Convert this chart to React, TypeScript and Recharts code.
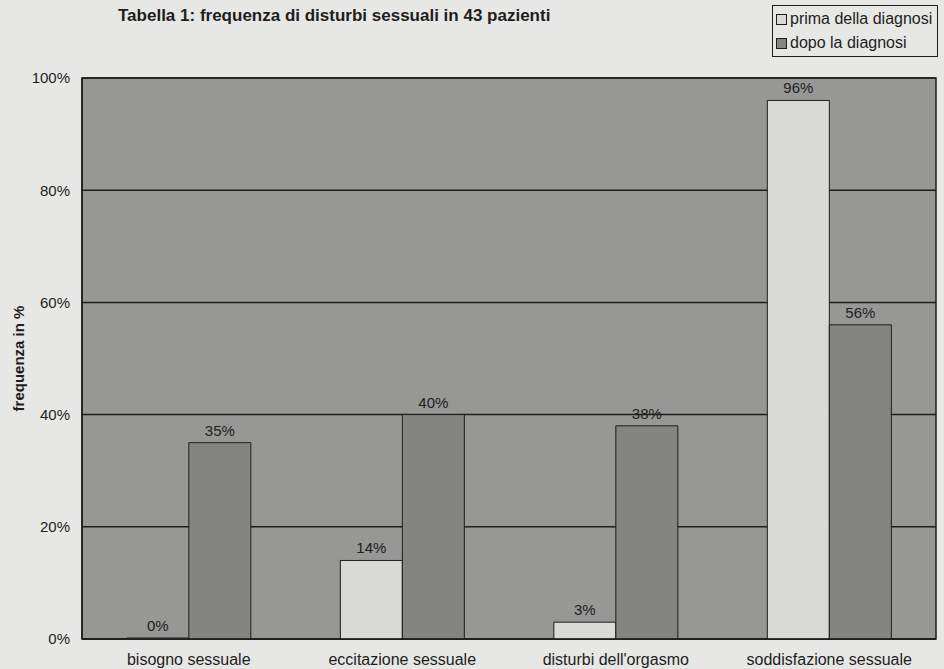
import React from 'react';
import {
  BarChart,
  Bar,
  XAxis,
  YAxis,
  CartesianGrid,
  Legend,
  LabelList,
  ReferenceArea,
} from 'recharts';

const categories = [
  'bisogno sessuale',
  'eccitazione sessuale',
  "disturbi dell'orgasmo",
  'soddisfazione sessuale',
];
const prima = [0, 14, 3, 96];
const dopo = [35, 40, 38, 56];
const yTicks = [0, 20, 40, 60, 80, 100];

const seriesNames = { prima: 'prima della diagnosi', dopo: 'dopo la diagnosi' };

const FONT = '"Liberation Sans", Arial, sans-serif';
const INK = '#1e1e1e';
const PAGE_BG = '#e7e7e5';
const PLOT_BG = '#979796';
const PRIMA_FILL = '#d9d9d7';
const DOPO_FILL = '#848483';

const data = categories.map((name, i) => ({ name, prima: prima[i], dopo: dopo[i] }));

// legend box in the top right corner
const LegendBox = () => (
  <div
    style={{
      border: `1px solid ${INK}`,
      background: PAGE_BG,
      padding: '1px 5px 1px 3px',
      fontFamily: FONT,
      fontSize: 16,
      color: INK,
      lineHeight: '24px',
    }}
  >
    {[
      { label: seriesNames.prima, fill: PRIMA_FILL },
      { label: seriesNames.dopo, fill: DOPO_FILL },
    ].map((item) => (
      <div key={item.label} style={{ display: 'flex', alignItems: 'center', whiteSpace: 'nowrap' }}>
        <span
          style={{
            display: 'inline-block',
            width: 9,
            height: 9,
            marginRight: 3,
            background: item.fill,
            border: `1px solid ${INK}`,
          }}
        />
        {item.label}
      </div>
    ))}
  </div>
);

const YLabel = ({ viewBox }: any) => {
  const cx = 18;
  const cy = viewBox.y + viewBox.height / 2;
  return (
    <text
      x={cx}
      y={cy}
      transform={`rotate(-90, ${cx}, ${cy})`}
      textAnchor="middle"
      dominantBaseline="central"
      fontFamily={FONT}
      fontSize={15}
      fontWeight="bold"
      fill={INK}
    >
      frequenza in %
    </text>
  );
};

// value label above each bar, also drawn for 0 values
const ValueLabel = ({ x, y, width, value }: any) => (
  <text
    x={x + width / 2}
    y={y - 7}
    textAnchor="middle"
    fontFamily={FONT}
    fontSize={15}
    fill={INK}
  >
    {`${value}%`}
  </text>
);

export default function App() {
  return (
    <div
      style={{
        position: 'absolute',
        left: 0,
        top: 0,
        width: 944,
        height: 669,
        background: PAGE_BG,
        overflow: 'hidden',
      }}
    >
      <div
        style={{
          position: 'absolute',
          left: 118,
          top: 6,
          fontFamily: FONT,
          fontSize: 17,
          fontWeight: 'bold',
          color: INK,
          whiteSpace: 'nowrap',
        }}
      >
        Tabella 1: frequenza di disturbi sessuali in 43 pazienti
      </div>
      <BarChart
        width={944}
        height={669}
        data={data}
        margin={{ top: 78, right: 8, left: 0, bottom: 0 }}
        barCategoryGap="21%"
        barGap={0}
      >
        <CartesianGrid vertical={false} fill={PLOT_BG} stroke={INK} strokeWidth={1.5} />
        <ReferenceArea y1={0} y2={100} fill="none" stroke={INK} strokeWidth={1.5} />
        <XAxis
          dataKey="name"
          height={30}
          axisLine={{ stroke: INK, strokeWidth: 1.5 }}
          tickLine={false}
          tickSize={8}
          tickMargin={7}
          tick={{ fill: INK, fontSize: 16, fontFamily: FONT }}
          interval={0}
        />
        <YAxis
          width={82}
          domain={[0, 100]}
          ticks={yTicks}
          tickFormatter={(v) => `${v}%`}
          axisLine={{ stroke: INK, strokeWidth: 1.5 }}
          tickLine={false}
          tickSize={8}
          tickMargin={4}
          tick={{ fill: INK, fontSize: 15, fontFamily: FONT }}
          label={{ content: <YLabel /> }}
        />
        <Legend
          layout="vertical"
          align="center"
          verticalAlign="middle"
          content={<LegendBox />}
          wrapperStyle={{ left: 772, top: 5, width: 'auto' }}
        />
        <Bar
          dataKey="prima"
          name={seriesNames.prima}
          fill={PRIMA_FILL}
          stroke={INK}
          strokeWidth={1}
          minPointSize={1}
          isAnimationActive={false}
        >
          <LabelList dataKey="prima" content={<ValueLabel />} />
        </Bar>
        <Bar
          dataKey="dopo"
          name={seriesNames.dopo}
          fill={DOPO_FILL}
          stroke={INK}
          strokeWidth={1}
          isAnimationActive={false}
        >
          <LabelList dataKey="dopo" content={<ValueLabel />} />
        </Bar>
      </BarChart>
    </div>
  );
}
